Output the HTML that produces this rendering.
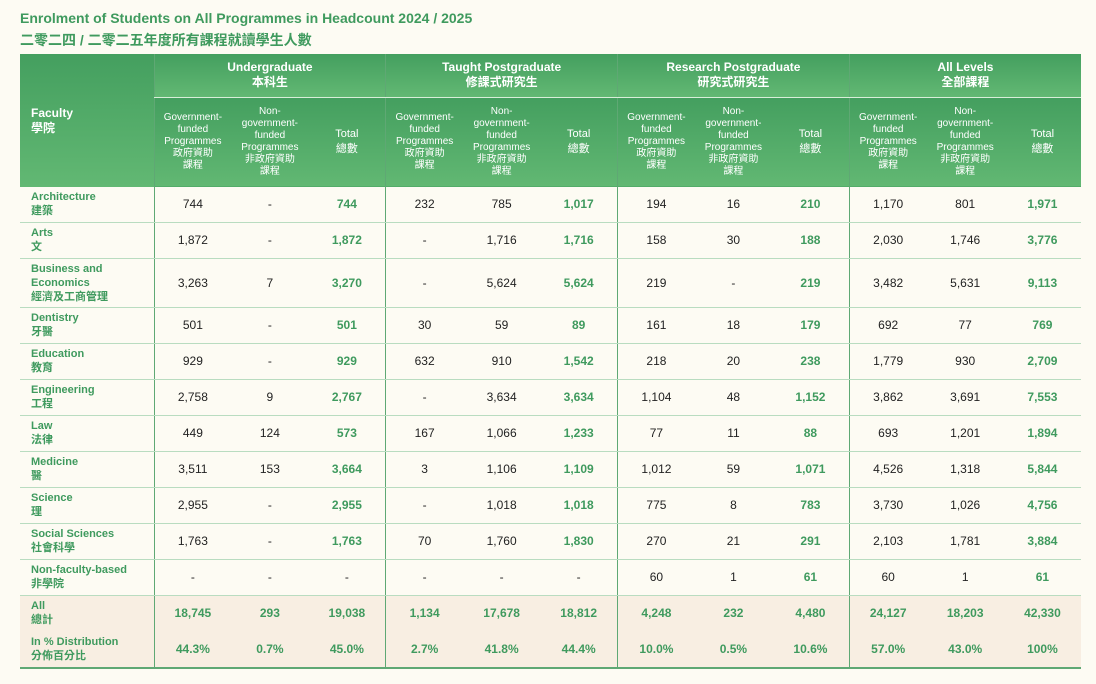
<!DOCTYPE html>
<html><head><meta charset="utf-8"><style>
body{margin:0;background:#fdfbf3;width:1096px;height:684px;overflow:hidden;font-family:"Liberation Sans","Noto Sans CJK TC",sans-serif;}
.t1{position:absolute;left:20px;top:10px;font-size:14px;font-weight:bold;color:#3f9a5e;}
.t2{position:absolute;left:20px;top:30px;font-size:14px;font-weight:bold;color:#3f9a5e;}
table{position:absolute;left:20px;top:54px;border-collapse:collapse;table-layout:fixed;width:1061px;}
th{color:#fff;font-weight:bold;background:linear-gradient(#449f5f,#62b873);}
thead tr:first-child th{font-size:12px;line-height:15px;}
th.s{font-size:10px;line-height:12px;font-weight:normal;}
th.s.tl{font-size:11px;line-height:15px;}
th.g{border-bottom:1px solid #d8eed9;}
th,td{text-align:center;padding:0;}
td{font-size:12px;color:#222;border-bottom:1px solid #b9dcc0;}
td.f{text-align:left;padding-left:11px;color:#3f9a5e;font-weight:bold;font-size:11px;line-height:14px;}
td.tt{color:#3f9a5e;font-weight:bold;}
.b{border-left:1px solid #5fa874;}
tr.sum td{background:#f8eee2;color:#3f9a5e;border-bottom:none;font-weight:bold;}
tr.last td{border-bottom:2px solid #5fa874;}
th.fh{text-align:left;padding-left:11px;font-size:12px;line-height:16px;}
</style></head><body>
<div class="t1">Enrolment of Students on All Programmes in Headcount 2024 / 2025</div>
<div class="t2">二零二四 / 二零二五年度所有課程就讀學生人數</div>
<table>
<colgroup><col style="width:134px"><col span="12" style="width:77.25px"></colgroup>
<thead>
<tr style="height:43px"><th rowspan="2" class="fh">Faculty<br>學院</th>
<th colspan="3" class="g b">Undergraduate<br>本科生</th><th colspan="3" class="g b">Taught Postgraduate<br>修課式研究生</th><th colspan="3" class="g b">Research Postgraduate<br>研究式研究生</th><th colspan="3" class="g b">All Levels<br>全部課程</th></tr>
<tr style="height:90px">
<th class="s b">Government-<br>funded<br>Programmes<br>政府資助<br>課程</th><th class="s">Non-<br>government-<br>funded<br>Programmes<br>非政府資助<br>課程</th><th class="s tl">Total<br>總數</th>
<th class="s b">Government-<br>funded<br>Programmes<br>政府資助<br>課程</th><th class="s">Non-<br>government-<br>funded<br>Programmes<br>非政府資助<br>課程</th><th class="s tl">Total<br>總數</th>
<th class="s b">Government-<br>funded<br>Programmes<br>政府資助<br>課程</th><th class="s">Non-<br>government-<br>funded<br>Programmes<br>非政府資助<br>課程</th><th class="s tl">Total<br>總數</th>
<th class="s b">Government-<br>funded<br>Programmes<br>政府資助<br>課程</th><th class="s">Non-<br>government-<br>funded<br>Programmes<br>非政府資助<br>課程</th><th class="s tl">Total<br>總數</th></tr>
</thead>
<tbody>
<tr style="height:35px"><td class="f">Architecture<br>建築</td><td class="b">744</td><td>-</td><td class="tt">744</td><td class="b">232</td><td>785</td><td class="tt">1,017</td><td class="b">194</td><td>16</td><td class="tt">210</td><td class="b">1,170</td><td>801</td><td class="tt">1,971</td></tr>
<tr style="height:36px"><td class="f">Arts<br>文</td><td class="b">1,872</td><td>-</td><td class="tt">1,872</td><td class="b">-</td><td>1,716</td><td class="tt">1,716</td><td class="b">158</td><td>30</td><td class="tt">188</td><td class="b">2,030</td><td>1,746</td><td class="tt">3,776</td></tr>
<tr style="height:49px"><td class="f">Business and<br>Economics<br>經濟及工商管理</td><td class="b">3,263</td><td>7</td><td class="tt">3,270</td><td class="b">-</td><td>5,624</td><td class="tt">5,624</td><td class="b">219</td><td>-</td><td class="tt">219</td><td class="b">3,482</td><td>5,631</td><td class="tt">9,113</td></tr>
<tr style="height:36px"><td class="f">Dentistry<br>牙醫</td><td class="b">501</td><td>-</td><td class="tt">501</td><td class="b">30</td><td>59</td><td class="tt">89</td><td class="b">161</td><td>18</td><td class="tt">179</td><td class="b">692</td><td>77</td><td class="tt">769</td></tr>
<tr style="height:36px"><td class="f">Education<br>教育</td><td class="b">929</td><td>-</td><td class="tt">929</td><td class="b">632</td><td>910</td><td class="tt">1,542</td><td class="b">218</td><td>20</td><td class="tt">238</td><td class="b">1,779</td><td>930</td><td class="tt">2,709</td></tr>
<tr style="height:36px"><td class="f">Engineering<br>工程</td><td class="b">2,758</td><td>9</td><td class="tt">2,767</td><td class="b">-</td><td>3,634</td><td class="tt">3,634</td><td class="b">1,104</td><td>48</td><td class="tt">1,152</td><td class="b">3,862</td><td>3,691</td><td class="tt">7,553</td></tr>
<tr style="height:36px"><td class="f">Law<br>法律</td><td class="b">449</td><td>124</td><td class="tt">573</td><td class="b">167</td><td>1,066</td><td class="tt">1,233</td><td class="b">77</td><td>11</td><td class="tt">88</td><td class="b">693</td><td>1,201</td><td class="tt">1,894</td></tr>
<tr style="height:36px"><td class="f">Medicine<br>醫</td><td class="b">3,511</td><td>153</td><td class="tt">3,664</td><td class="b">3</td><td>1,106</td><td class="tt">1,109</td><td class="b">1,012</td><td>59</td><td class="tt">1,071</td><td class="b">4,526</td><td>1,318</td><td class="tt">5,844</td></tr>
<tr style="height:36px"><td class="f">Science<br>理</td><td class="b">2,955</td><td>-</td><td class="tt">2,955</td><td class="b">-</td><td>1,018</td><td class="tt">1,018</td><td class="b">775</td><td>8</td><td class="tt">783</td><td class="b">3,730</td><td>1,026</td><td class="tt">4,756</td></tr>
<tr style="height:36px"><td class="f">Social Sciences<br>社會科學</td><td class="b">1,763</td><td>-</td><td class="tt">1,763</td><td class="b">70</td><td>1,760</td><td class="tt">1,830</td><td class="b">270</td><td>21</td><td class="tt">291</td><td class="b">2,103</td><td>1,781</td><td class="tt">3,884</td></tr>
<tr style="height:36px"><td class="f">Non-faculty-based<br>非學院</td><td class="b">-</td><td>-</td><td>-</td><td class="b">-</td><td>-</td><td>-</td><td class="b">60</td><td>1</td><td class="tt">61</td><td class="b">60</td><td>1</td><td class="tt">61</td></tr>
<tr class="sum" style="height:36px"><td class="f">All<br>總計</td><td class="b">18,745</td><td>293</td><td>19,038</td><td class="b">1,134</td><td>17,678</td><td>18,812</td><td class="b">4,248</td><td>232</td><td>4,480</td><td class="b">24,127</td><td>18,203</td><td>42,330</td></tr>
<tr class="sum last" style="height:37px"><td class="f">In % Distribution<br>分佈百分比</td><td class="b">44.3%</td><td>0.7%</td><td>45.0%</td><td class="b">2.7%</td><td>41.8%</td><td>44.4%</td><td class="b">10.0%</td><td>0.5%</td><td>10.6%</td><td class="b">57.0%</td><td>43.0%</td><td>100%</td></tr>
</tbody></table>
</body></html>
